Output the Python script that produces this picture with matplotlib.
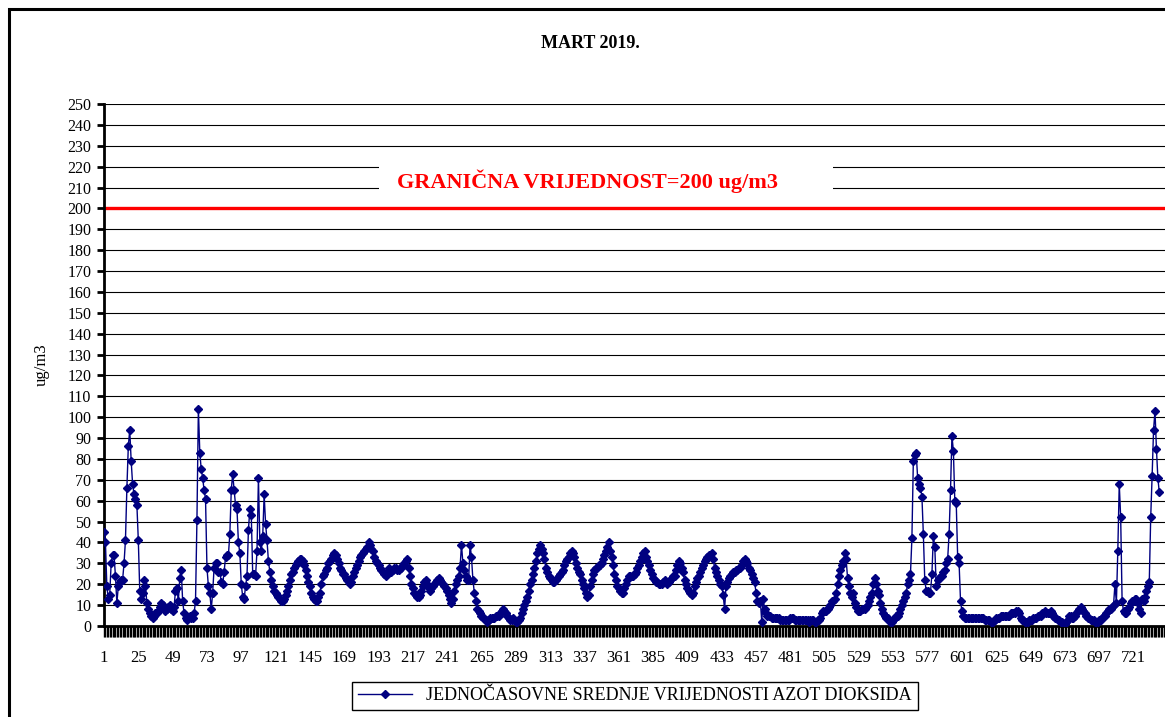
import numpy as np
import matplotlib
matplotlib.use('Agg')
import matplotlib.pyplot as plt
from matplotlib.patches import Rectangle

plt.rcParams['font.family'] = ['Liberation Serif', 'DejaVu Serif']

# hourly NO2 values, one list per day of March 2019
d1 = [45, 40, 19, 13, 15, 30, 34, 34, 24, 11, 19, 21, 22, 22, 30, 41, 66, 86, 94, 79, 68, 63, 61, 58]
d2 = [41, 17, 13, 16, 22, 19, 11, 8, 6, 5, 4, 5, 6, 6, 7, 9, 11, 10, 8, 7, 8, 9, 10, 8]
d3 = [7, 9, 17, 18, 12, 23, 27, 12, 6, 4, 3, 4, 5, 4, 4, 6, 12, 51, 104, 83, 75, 71, 65, 61]
d4 = [28, 19, 16, 8, 16, 28, 30, 30, 26, 26, 21, 20, 26, 33, 34, 34, 44, 65, 73, 65, 58, 56, 40, 35]
d5 = [20, 14, 13, 19, 24, 46, 56, 53, 25, 25, 24, 36, 71, 40, 36, 43, 63, 49, 41, 31, 26, 22, 19, 17]
d6 = [16, 15, 14, 13, 12, 12, 13, 15, 17, 19, 22, 25, 26, 28, 29, 30, 31, 32, 32, 31, 29, 27, 24, 21]
d7 = [19, 16, 14, 13, 12, 12, 14, 16, 20, 24, 25, 27, 28, 30, 31, 32, 34, 35, 34, 32, 30, 28, 27, 25]
d8 = [25, 23, 22, 21, 20, 21, 24, 26, 28, 29, 31, 33, 34, 35, 36, 37, 38, 40, 39, 37, 36, 33, 31, 30]
d9 = [29, 28, 27, 26, 25, 24, 26, 28, 27, 26, 27, 28, 28, 27, 27, 28, 28, 29, 30, 31, 32, 28, 24, 20]
d10 = [18, 16, 15, 14, 14, 15, 17, 19, 21, 22, 20, 18, 17, 18, 19, 20, 21, 22, 23, 22, 21, 20, 19, 18]
d11 = [17, 15, 13, 11, 13, 17, 20, 22, 24, 28, 39, 30, 27, 24, 22, 22, 39, 33, 22, 16, 12, 8, 7, 6]
d12 = [5, 4, 4, 3, 2, 3, 4, 4, 4, 4, 5, 5, 5, 6, 7, 8, 7, 6, 5, 4, 3, 3, 4, 3]
d13 = [2, 2, 3, 4, 6, 8, 10, 12, 14, 17, 20, 22, 25, 28, 31, 35, 37, 39, 37, 35, 32, 28, 26, 24]
d14 = [23, 22, 21, 21, 22, 23, 24, 25, 26, 27, 29, 31, 32, 33, 35, 36, 35, 33, 30, 28, 26, 25, 22, 20]
d15 = [18, 16, 14, 15, 19, 22, 25, 27, 28, 28, 29, 29, 30, 32, 34, 36, 38, 40, 36, 33, 29, 25, 22, 19]
d16 = [18, 17, 16, 16, 18, 20, 22, 24, 24, 24, 24, 25, 26, 28, 29, 31, 33, 35, 36, 33, 31, 29, 27, 25]
d17 = [23, 22, 21, 21, 20, 20, 20, 21, 22, 21, 20, 21, 22, 23, 24, 24, 27, 29, 31, 30, 28, 26, 22, 20]
d18 = [18, 17, 16, 15, 16, 19, 21, 23, 24, 26, 28, 29, 31, 32, 33, 34, 34, 35, 32, 28, 26, 24, 22, 20]
d19 = [19, 15, 8, 19, 21, 23, 24, 25, 26, 26, 27, 27, 28, 28, 29, 31, 32, 31, 30, 28, 27, 25, 23, 21]
d20 = [16, 12, 11, 12, 2, 13, 8, 6, 5, 5, 5, 4, 4, 4, 4, 4, 4, 3, 3, 3, 3, 3, 3, 3]
d21 = [4, 4, 4, 3, 3, 3, 3, 3, 3, 3, 3, 3, 3, 2, 3, 3, 3, 2, 2, 3, 3, 4, 6, 7]
d22 = [7, 7, 8, 9, 10, 12, 12, 13, 16, 20, 24, 27, 29, 31, 35, 32, 23, 19, 16, 14, 16, 11, 9, 7]
d23 = [7, 7, 8, 8, 8, 9, 10, 12, 14, 16, 20, 23, 20, 17, 15, 11, 8, 6, 5, 4, 4, 3, 2, 2]
d24 = [3, 4, 5, 5, 6, 8, 10, 12, 14, 16, 20, 22, 25, 42, 79, 82, 83, 71, 68, 66, 62, 44, 22, 17]
d25 = [17, 16, 16, 25, 43, 38, 19, 22, 23, 24, 24, 26, 27, 30, 32, 44, 65, 91, 84, 60, 59, 33, 30, 12]
d26 = [7, 5, 4, 4, 4, 4, 4, 4, 4, 4, 4, 4, 4, 4, 4, 4, 3, 3, 3, 3, 2, 2, 2, 3]
d27 = [4, 4, 4, 5, 5, 5, 5, 5, 5, 5, 6, 6, 6, 6, 7, 7, 6, 4, 3, 3, 2, 2, 2, 3]
d28 = [3, 3, 4, 4, 4, 5, 5, 5, 6, 6, 7, 6, 6, 6, 7, 6, 5, 4, 4, 3, 3, 2, 2, 1]
d29 = [1, 2, 3, 5, 5, 4, 4, 5, 6, 7, 8, 9, 8, 7, 6, 5, 4, 4, 3, 3, 3, 2, 2, 2]
d30 = [3, 3, 4, 5, 5, 6, 7, 8, 8, 9, 10, 20, 11, 36, 68, 52, 12, 7, 6, 6, 8, 9, 11, 12]
d31 = [12, 13, 13, 11, 8, 6, 13, 12, 14, 17, 19, 21, 52, 72, 94, 103, 85, 71, 64]

days = [d1, d2, d3, d4, d5, d6, d7, d8, d9, d10, d11, d12, d13, d14, d15, d16,
        d17, d18, d19, d20, d21, d22, d23, d24, d25, d26, d27, d28, d29, d30, d31]
values = np.array(sum(days, []))
hours = np.arange(1, len(values) + 1)

limit = 200
limit_label = 'GRANIČNA VRIJEDNOST=200 ug/m3'
title = 'MART 2019.'
series_label = 'JEDNOČASOVNE SREDNJE VRIJEDNOSTI AZOT DIOKSIDA'
x_labels = np.arange(1, 722, 24)

W, H = 1165, 717
fig = plt.figure(figsize=(W / 100, H / 100), dpi=100)
ax = fig.add_axes([104 / W, (H - 626) / H, 1 - 104 / W, (626 - 104) / H])

ax.set_ylim(0, 250)
ax.set_xlim(1, 743)
ax.set_yticks(np.arange(0, 251, 10))
ax.set_xticks(x_labels)
ax.set_xticks(np.arange(1, 744), minor=True)
ax.grid(axis='y', color='black', lw=0.8)
ax.set_axisbelow(True)

for s in ['top', 'right']:
    ax.spines[s].set_visible(False)
for s in ['left', 'bottom']:
    ax.spines[s].set_linewidth(2)

ax.tick_params(axis='y', direction='out', length=5, width=2, labelsize=11.5, pad=4)
ax.tick_params(axis='x', which='major', direction='out', length=8, width=1, labelsize=12, pad=9)
ax.tick_params(axis='x', which='minor', direction='out', length=8, width=1)

line, = ax.plot(hours, values, color='#000080', lw=1, marker='D', ms=4.3, zorder=3)

ax.axhline(limit, color='red', lw=2.4, zorder=2)
ax.add_patch(Rectangle((193, 203), 318, 23, facecolor='white', edgecolor='none', zorder=1))
ax.text(339, 213, limit_label, color='red', fontsize=16, fontweight='bold',
        ha='center', va='center', zorder=4)

fig.text(590 / W, 1 - 43 / H, title, fontsize=13, fontweight='bold', ha='center', va='center')
fig.text(42 / W, 1 - 365 / H, 'ug/m3', fontsize=12, rotation=90, ha='center', va='center')

fig.legend([line], [series_label], loc='center', bbox_to_anchor=(635 / W, 1 - 696 / H),
           frameon=True, fancybox=False, edgecolor='black', framealpha=1,
           fontsize=13, handlelength=3.0, borderpad=0.3)

# outer chart border (cut at right and bottom)
fig.add_artist(Rectangle((9 / W, -0.1), 1.2, (H - 9) / H + 0.1, transform=fig.transFigure,
                         fill=False, lw=2.2, edgecolor='black'))

fig.savefig('out.png', dpi=100)
